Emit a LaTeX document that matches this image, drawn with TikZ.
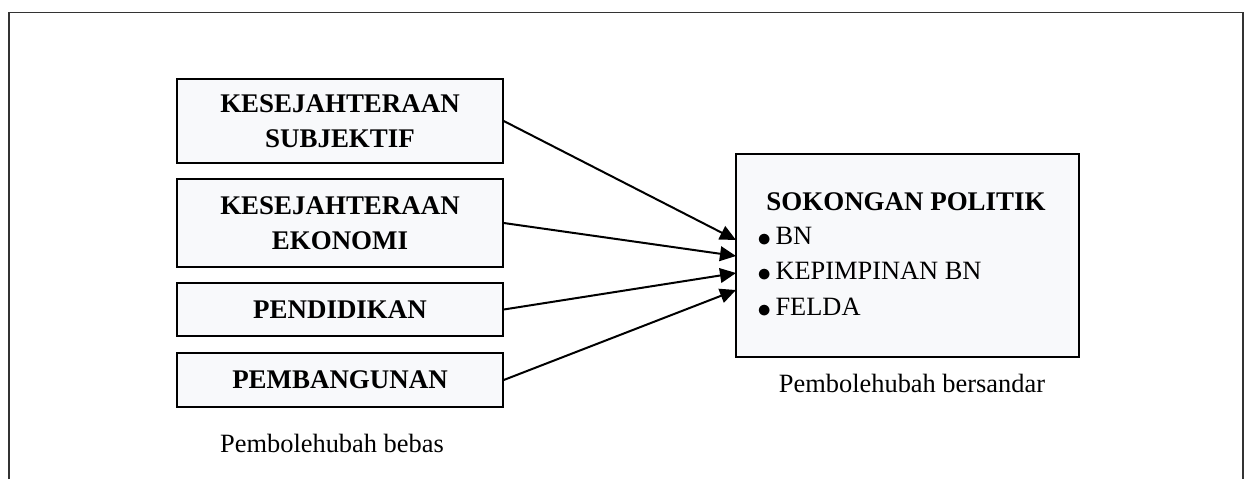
\documentclass[tikz,border=0pt]{standalone}
\usepackage{fontspec}
\setmainfont{Liberation Serif}
\usetikzlibrary{arrows.meta}
\definecolor{boxfill}{RGB}{248,249,251}
\newcommand{\butir}{\raisebox{-1.5pt}{$\bullet$}\,}
\tikzset{
  varbox/.style={draw=black,line width=1.1pt,fill=boxfill,minimum width=244.5pt,
    align=center,font=\fontsize{20.2}{26}\selectfont\bfseries,inner sep=0pt},
  itemtext/.style={anchor=west,font=\fontsize{19.8}{22}\selectfont,inner sep=0pt},
  captext/.style={font=\fontsize{19.8}{22}\selectfont,inner sep=0pt}
}
\begin{document}
\begin{tikzpicture}[>={Triangle[length=12pt,width=11pt]},x=0.75pt,y=-0.75pt]
  \useasboundingbox (0,0) rectangle (1244,479);
  % bingkai luar
  \draw[line width=1pt,black!80] (9,479)--(9,12.5)--(1243,12.5)--(1243,479);
  % pembolehubah bebas
  \node[varbox,minimum height=63pt] (subjektif) at (340,121) {KESEJAHTERAAN\\SUBJEKTIF};
  \node[varbox,minimum height=66pt] (ekonomi) at (340,223) {KESEJAHTERAAN\\EKONOMI};
  \node[varbox,minimum height=40pt] (pendidikan) at (340,309.5) {PENDIDIKAN};
  \node[varbox,minimum height=40.5pt] (pembangunan) at (340,380) {PEMBANGUNAN};
  \node[captext] (bebas) at (332,443) {Pembolehubah bebas};
  % pembolehubah bersandar
  \node[varbox,minimum width=257pt,minimum height=152pt] (sokongan) at (907.5,255.5) {};
  \node[varbox,draw=none,fill=none] (tajuk) at (906,202) {SOKONGAN POLITIK};
  \node[itemtext] (bn) at (757,237) {\butir BN};
  \node[itemtext] (kepimpinan) at (757,272) {\butir KEPIMPINAN BN};
  \node[itemtext] (felda) at (757,308) {\butir FELDA};
  \node[captext] (bersandar) at (912,383) {Pembolehubah bersandar};
  % hujung anak panah
  \coordinate (t1) at (736,240);
  \coordinate (t2) at (736,256);
  \coordinate (t3) at (736,273);
  \coordinate (t4) at (736,290);
  \draw[->,line width=1.5pt] (subjektif.east) -- (t1);
  \draw[->,line width=1.5pt] (ekonomi.east) -- (t2);
  \draw[->,line width=1.5pt] (pendidikan.east) -- (t3);
  \draw[->,line width=1.5pt] (pembangunan.east) -- (t4);
\end{tikzpicture}
\end{document}
